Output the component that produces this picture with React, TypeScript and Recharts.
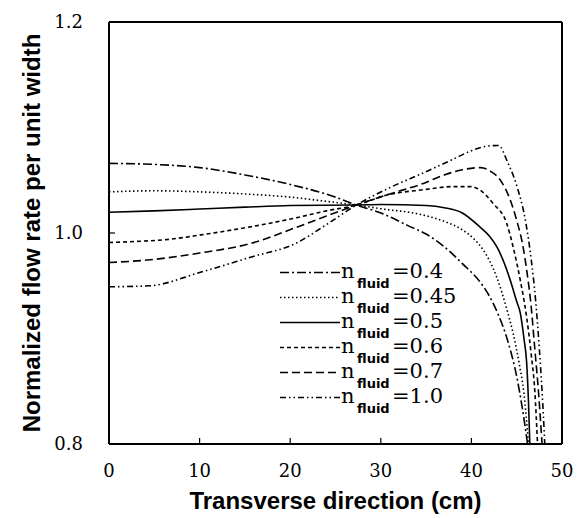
import { LineChart, Line, XAxis, YAxis, ReferenceLine, Legend, Label } from 'recharts';

const xTicks = [0, 10, 20, 30, 40, 50];
const yTicks = [0.8, 1.0, 1.2];

// n_fluid = 0.4
const n04X = [0, 5, 10, 15, 20, 25, 27.3, 30, 33, 35, 37, 39, 41, 42, 43, 44, 45, 45.6, 46.2];
const n04Y = [1.066, 1.065, 1.062, 1.055, 1.046, 1.034, 1.0265, 1.019, 1.007, 0.999, 0.987, 0.971, 0.953, 0.94, 0.922, 0.898, 0.864, 0.835, 0.8];

// n_fluid = 0.45
const n045X = [0, 5, 10, 15, 20, 24, 27.3, 30, 34.7, 37, 39, 40.2, 41.3, 42.8, 43.9, 44.6, 45.3, 45.8, 46.3];
const n045Y = [1.039, 1.04, 1.039, 1.037, 1.034, 1.03, 1.0265, 1.023, 1.017, 1.011, 1.003, 0.995, 0.984, 0.958, 0.928, 0.905, 0.875, 0.848, 0.8];

// n_fluid = 0.5
const n05X = [0, 5, 10, 15, 20, 27.3, 30, 35, 37, 39, 40.9, 42, 42.8, 43.6, 44.3, 45, 45.4, 45.8, 46.1, 46.3, 46.45];
const n05Y = [1.0197, 1.021, 1.0227, 1.0245, 1.026, 1.0265, 1.027, 1.026, 1.024, 1.019, 1.006, 0.997, 0.987, 0.972, 0.955, 0.935, 0.924, 0.9, 0.877, 0.84, 0.8];

// n_fluid = 0.6
const n06X = [0, 3, 6.6, 10, 13.7, 17, 20.7, 24, 27.3, 30.7, 34.7, 38, 40, 40.9, 42.4, 43.9, 44.6, 45.4, 46.1, 46.6, 47, 47.3];
const n06Y = [0.991, 0.992, 0.994, 0.998, 1.003, 1.008, 1.0145, 1.021, 1.0265, 1.036, 1.041, 1.044, 1.044, 1.041, 1.028, 1.009, 0.987, 0.955, 0.92, 0.885, 0.85, 0.8];

// n_fluid = 0.7
const n07X = [0, 5, 10, 15.6, 20.7, 24, 27.3, 31, 34.7, 37, 39, 41, 42.2, 43.2, 44.3, 45, 45.7, 46.1, 46.6, 47, 47.4, 47.8];
const n07Y = [0.972, 0.975, 0.981, 0.99, 1.0054, 1.016, 1.0265, 1.037, 1.047, 1.055, 1.06, 1.062, 1.058, 1.05, 1.031, 1.012, 0.987, 0.965, 0.93, 0.89, 0.85, 0.8];

// n_fluid = 1.0
const n10X = [0, 4.5, 10, 15.6, 20.7, 24, 27.3, 31, 34.7, 38, 40, 41.5, 43, 44, 45, 46, 46.6, 47.1, 47.5, 47.8, 48.1];
const n10Y = [0.949, 0.95, 0.9625, 0.977, 0.9905, 1.008, 1.0265, 1.043, 1.057, 1.07, 1.078, 1.082, 1.083, 1.067, 1.045, 1.01, 0.975, 0.935, 0.89, 0.85, 0.8];

const series = [
  { name: '0.4', xs: n04X, ys: n04Y, dash: '9 3 2 3' },
  { name: '0.45', xs: n045X, ys: n045Y, dash: '1.5 2.5' },
  { name: '0.5', xs: n05X, ys: n05Y, dash: undefined },
  { name: '0.6', xs: n06X, ys: n06Y, dash: '4 3' },
  { name: '0.7', xs: n07X, ys: n07Y, dash: '8 4' },
  { name: '1.0', xs: n10X, ys: n10Y, dash: '6 3 1.5 3 1.5 3' },
];

const toPoints = (xs: number[], ys: number[]) => xs.map((x, i) => ({ x, y: ys[i] }));

function FluidLegend() {
  return (
    <svg width={200} height={170}>
      {series.map((s, i) => {
        const base = 23 + i * 25;
        return (
          <g key={s.name}>
            <line x1={0} x2={60} y1={base - 5.5} y2={base - 5.5} stroke="#000" strokeWidth={1.5} strokeDasharray={s.dash} />
            <text x={61} y={base} fontFamily="DejaVu Serif" fontSize={21} fill="#000">n</text>
            <text x={77} y={base + 10} fontFamily="DejaVu Sans" fontWeight="bold" fontSize={13} fill="#000">fluid</text>
            <text x={112} y={base} fontFamily="DejaVu Serif" fontSize={21} fill="#000">={s.name}</text>
          </g>
        );
      })}
    </svg>
  );
}

export default function App() {
  const tickStyle = { fontFamily: 'DejaVu Serif', fontSize: 18, fill: '#000' };
  return (
    <div style={{ position: 'absolute', left: 0, top: 0, background: '#fff' }}>
      <LineChart width={579} height={518} margin={{ top: 22, right: 17, left: 29, bottom: 44 }}>
        <XAxis
          dataKey="x"
          type="number"
          domain={[0, 50]}
          ticks={xTicks}
          height={30}
          tickSize={-6}
          tickMargin={26}
          tick={tickStyle}
          axisLine={{ stroke: '#000', strokeWidth: 2 }}
          tickLine={{ stroke: '#000', strokeWidth: 1.2 }}
        >
          <Label
            value="Transverse direction (cm)"
            position="bottom"
            offset={18}
            style={{ fontFamily: 'Liberation Sans', fontWeight: 'bold', fontSize: 24, fill: '#000' }}
          />
        </XAxis>
        <YAxis
          dataKey="y"
          type="number"
          domain={[0.8, 1.2]}
          ticks={yTicks}
          width={80}
          tickSize={-6}
          tickMargin={32}
          tick={tickStyle}
          tickFormatter={(v: number) => v.toFixed(1)}
          axisLine={{ stroke: '#000', strokeWidth: 2 }}
          tickLine={{ stroke: '#000', strokeWidth: 1.2 }}
        >
          <Label
            value="Normalized flow rate per unit width"
            position="insideLeft"
            angle={-90}
            offset={2.5}
            style={{ fontFamily: 'Liberation Sans', fontWeight: 'bold', fontSize: 24, fill: '#000', textAnchor: 'middle' }}
          />
        </YAxis>
        <ReferenceLine y={1.2} stroke="#000" strokeWidth={2} />
        <ReferenceLine x={50} stroke="#000" strokeWidth={2} />
        {series.map((s) => (
          <Line
            key={s.name}
            data={toPoints(s.xs, s.ys)}
            dataKey="y"
            type="monotone"
            stroke="#000"
            strokeWidth={1.6}
            strokeDasharray={s.dash}
            dot={false}
            isAnimationActive={false}
          />
        ))}
        <Legend
          layout="vertical"
          align="center"
          verticalAlign="middle"
          content={() => <FluidLegend />}
          wrapperStyle={{ left: 280, top: 255, width: 200, height: 170 }}
        />
      </LineChart>
    </div>
  );
}
